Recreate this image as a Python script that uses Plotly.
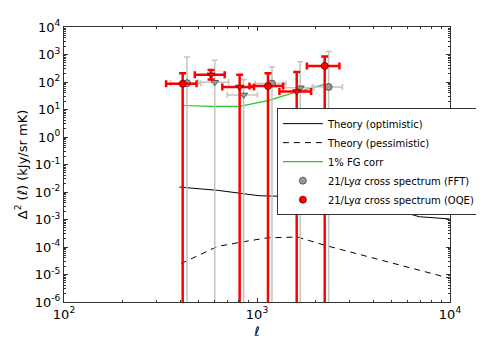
import plotly.graph_objects as go

# theory curves
ell_opt = [396, 625, 1028, 1600, 2500, 4660, 6935, 9900]
theory_opt = [0.0151, 0.0115, 0.0073, 0.0068, 0.0055, 0.0028, 0.00126, 0.00105]
ell_pes = [404, 625, 826, 1135, 1625, 2233, 9900]
theory_pes = [2.5e-5, 1.05e-4, 1.5e-4, 2.16e-4, 2.3e-4, 1.17e-4, 7.4e-6]

# 1% foreground correction
ell_fg = [412, 578, 813, 1140, 1606, 2243]
fg_corr = [14, 13, 13, 21, 44, 82]

# FFT estimate (absolute values, negative ones marked with triangles)
ell_fft = [434, 604, 853, 1196, 1675, 2350]
ell_fft_err = [78, 108, 152, 215, 300, 420]
fft_val = [91, 98, 34, 88, 62, 66]
fft_upper = [809, 617, 123, 360, 540, 1290]
fft_lower = [-200, -200, -100, -150, -150, -200]
fft_negative = [False, True, True, False, True, False]

# OQE estimate
ell_oqe = [412, 578, 813, 1140, 1606, 2243]
ell_oqe_err = [74, 102, 152, 226, 300, 430]
oqe_val = [86, 183, 66, 71, 45, 385]
oqe_upper = [209, 275, 184, 209, 229, 850]
oqe_lower = [-100, 123, -100, -100, -100, -300]
oqe_negative = [False, True, True, False, True, False]


def symbols(neg):
    return ["triangle-down" if n else "circle" for n in neg]


fig = go.Figure()
fig.add_trace(go.Scatter(
    x=ell_opt, y=theory_opt, mode="lines", name="Theory (optimistic)",
    line=dict(color="black", width=1)
))
fig.add_trace(go.Scatter(
    x=ell_pes, y=theory_pes, mode="lines", name="Theory (pessimistic)",
    line=dict(color="black", width=1, dash="6px,5px")
))
fig.add_trace(go.Scatter(
    x=ell_fg, y=fg_corr, mode="lines", name="1% FG corr",
    line=dict(color="#22cc22", width=1.2)
))
fig.add_trace(go.Scatter(
    x=ell_fft, y=fft_val, mode="markers",
    name="21/Ly<i>α</i> cross spectrum (FFT)",
    marker=dict(symbol=symbols(fft_negative), size=7, color="#999999",
                line=dict(color="#444444", width=0.8)),
    error_x=dict(type="data", array=ell_fft_err, color="#c4c4c4",
                 thickness=1.5, width=3),
    error_y=dict(type="data", symmetric=False,
                 array=[u - v for u, v in zip(fft_upper, fft_val)],
                 arrayminus=[v - lo for v, lo in zip(fft_val, fft_lower)],
                 color="#c4c4c4", thickness=1.5, width=3)
))
fig.add_trace(go.Scatter(
    x=ell_oqe, y=oqe_val, mode="markers",
    name="21/Ly<i>α</i> cross spectrum (OQE)",
    marker=dict(symbol=symbols(oqe_negative), size=7, color="red",
                line=dict(color="#660000", width=0.8)),
    error_x=dict(type="data", array=ell_oqe_err, color="red",
                 thickness=2.5, width=3.5),
    error_y=dict(type="data", symmetric=False,
                 array=[u - v for u, v in zip(oqe_upper, oqe_val)],
                 arrayminus=[v - lo for v, lo in zip(oqe_val, oqe_lower)],
                 color="red", thickness=2.5, width=3.5)
))

x_ticks = [100, 1000, 10000]
x_labels = ["10<sup>2</sup>", "10<sup>3</sup>", "10<sup>4</sup>"]
y_ticks = [10.0 ** p for p in range(-6, 5)]
y_labels = [f"10<sup>{p}</sup>" for p in range(-6, 5)]

axis_style = dict(
    type="log", showline=True, linecolor="#333333", linewidth=1, mirror="allticks",
    ticks="inside", ticklen=4, tickcolor="#333333", showgrid=False, zeroline=False,
    minor=dict(dtick="D1", ticks="inside", ticklen=2, tickcolor="#333333", showgrid=False),
    tickfont=dict(size=13, color="black"),
)

fig.update_layout(
    width=484, height=344,
    margin=dict(l=56, r=42, t=10, b=50),
    plot_bgcolor="white", paper_bgcolor="white",
    font=dict(family="DejaVu Sans", color="black"),
    xaxis=dict(axis_style, range=[2, 4], tickmode="array", tickvals=x_ticks,
               ticktext=x_labels,
               title=dict(text="<i>ℓ</i>", font=dict(size=13), standoff=6)),
    yaxis=dict(axis_style, range=[-6, 4], tickmode="array", tickvals=y_ticks,
               ticktext=y_labels,
               title=dict(text="Δ<sup>2</sup> (<i>ℓ</i>) (kJy/sr mK)",
                          font=dict(size=13), standoff=4)),
    legend=dict(x=1.08, y=0.705, xanchor="right", yanchor="top",
                bgcolor="white", bordercolor="#333333", borderwidth=1,
                font=dict(size=10), tracegroupgap=0, itemwidth=40),
    showlegend=True,
)

fig.write_html("out.html")
